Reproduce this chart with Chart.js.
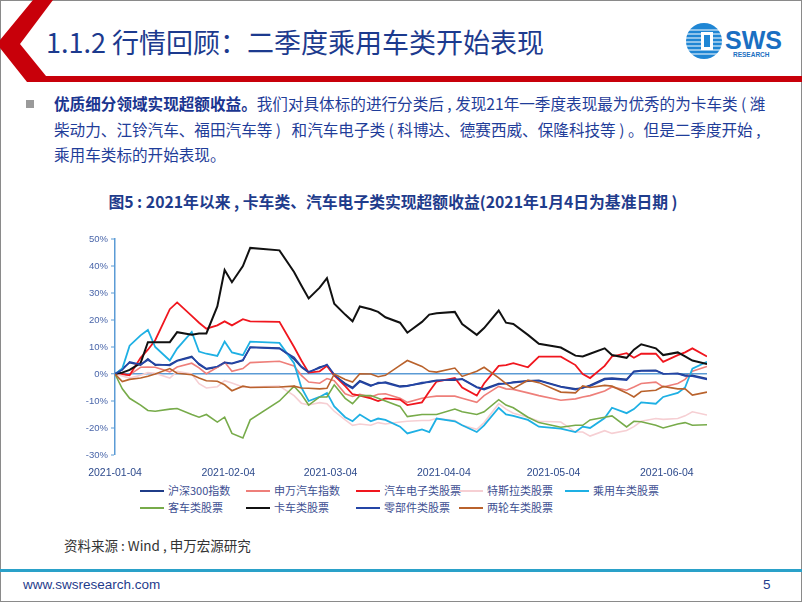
<!DOCTYPE html>
<html lang="zh">
<head>
<meta charset="UTF-8">
<title>行情回顾</title>
<script src="https://cdn.jsdelivr.net/npm/chart.js"></script>
<style>
    body {
        margin: 0;
        width: 802px;
        height: 602px;
        position: relative;
        overflow: hidden;
        background: #fff;
        font-family: "Noto Sans CJK SC", sans-serif;
    }
    .frame {
        position: absolute;
        left: 0; top: 0;
        width: 800px; height: 600px;
        border: 1px solid #8a8a8a;
    }
    .title {
        position: absolute;
        left: 46px; top: 24px;
        font-size: 27px;
        line-height: 36px;
        color: #1c3a8e;
        white-space: nowrap;
    }
    .bullet {
        position: absolute;
        left: 26px; top: 100px;
        width: 8px; height: 8px;
        background: #9a9a9a;
    }
    .para {
        position: absolute;
        left: 54px; top: 91px;
        font-size: 15.6px;
        line-height: 25.5px;
        color: #1f3d99;
        white-space: nowrap;
    }
    .para b { font-weight: bold; color: #1a3590; }
    .ctitle {
        position: absolute;
        left: 0; width: 786px; top: 190px;
        text-align: center;
        font-size: 15.8px;
        font-weight: bold;
        color: #1f3c8c;
        white-space: nowrap;
    }
    #chart {
        position: absolute;
        left: 60px; top: 230px;
    }
    .leg {
        position: absolute;
        font-size: 11px;
        line-height: 14px;
        color: #3e4f92;
        white-space: nowrap;
    }
    .leg i {
        display: inline-block;
        width: 24px; height: 2px;
        vertical-align: middle;
        margin-right: 4px;
        margin-top: -2px;
    }
    .source {
        position: absolute;
        left: 64px; top: 535px;
        font-size: 13.5px;
        color: #333;
    }
    .footline {
        position: absolute;
        left: 0; top: 569px;
        width: 802px; height: 3px;
        background: #2aa1c9;
    }
    .url, .page {
        position: absolute;
        top: 577px;
        font-family: "Liberation Sans", Arial, sans-serif;
        font-size: 13.5px;
        color: #1f3c8c;
    }
    .url { left: 23px; }
    .page { left: 763px; }
</style>
</head>
<body>
<div class="frame"></div>

<svg width="802" height="90" style="position:absolute;left:0;top:0">
    <polygon points="33,0 53,0 20,44 46,76 802,76 802,82 27,82 0,48 0,40" fill="#c8000a"/>
    <circle cx="704" cy="41" r="18" fill="#1f86d4"/>
    <g stroke="#ffffff" stroke-width="1.2">
        <line x1="686" y1="30" x2="722" y2="30"/>
        <line x1="686" y1="34" x2="722" y2="34"/>
        <line x1="686" y1="38" x2="722" y2="38"/>
        <line x1="686" y1="42" x2="722" y2="42"/>
        <line x1="686" y1="46" x2="722" y2="46"/>
        <line x1="686" y1="50" x2="722" y2="50"/>
        <line x1="686" y1="54" x2="722" y2="54"/>
    </g>
    <rect x="701" y="32" width="12" height="18" fill="#ffffff"/>
    <rect x="704" y="35" width="6" height="12" fill="#1f86d4"/>
    <text x="725" y="49" font-family="Liberation Sans" font-weight="bold" font-size="25" fill="#1a6fc2">SWS</text>
    <text x="733" y="57" font-family="Liberation Sans" font-weight="bold" font-size="6.5" fill="#1a6fc2">RESEARCH</text>
</svg>

<div class="title">1.1.2 行情回顾：二季度乘用车类开始表现</div>

<div class="bullet"></div>
<div class="para"><b>优质细分领域实现超额收益。</b>我们对具体标的进行分类后 , 发现21年一季度表现最为优秀的为卡车类 ( 潍<br>柴动力、江铃汽车、福田汽车等 )&nbsp;&nbsp; 和汽车电子类 ( 科博达、德赛西威、保隆科技等 ) 。但是二季度开始 ,<br>乘用车类标的开始表现。</div>

<div class="ctitle">图5 : 2021年以来 , 卡车类、汽车电子类实现超额收益(2021年1月4日为基准日期 )</div>

<canvas id="chart" width="670" height="250"></canvas>
<div id="legend"></div>

<div class="source">资料来源 : Wind , 申万宏源研究</div>
<div class="footline"></div>
<div class="url">www.swsresearch.com</div>
<div class="page">5</div>

<script>
// sample dates (trading days)
const dates = [
    '2021-01-04','2021-01-06','2021-01-08','2021-01-11','2021-01-13','2021-01-15','2021-01-19','2021-01-21','2021-01-25','2021-01-27','2021-01-29',
    '2021-02-01','2021-02-03','2021-02-05','2021-02-08','2021-02-10','2021-02-18','2021-02-22','2021-02-24','2021-02-26',
    '2021-03-01','2021-03-03','2021-03-05','2021-03-08','2021-03-10','2021-03-12','2021-03-15','2021-03-17','2021-03-19','2021-03-23','2021-03-25','2021-03-29','2021-03-31',
    '2021-04-02','2021-04-07','2021-04-09','2021-04-13','2021-04-15','2021-04-19','2021-04-21','2021-04-23','2021-04-27','2021-04-30',
    '2021-05-06','2021-05-10','2021-05-12','2021-05-14','2021-05-18','2021-05-20','2021-05-24','2021-05-26','2021-05-28',
    '2021-06-01','2021-06-03','2021-06-07','2021-06-09','2021-06-11','2021-06-15'
];
const tickDates = ['2021-01-04','2021-02-04','2021-03-04','2021-04-04','2021-05-04','2021-06-04'];
const lastDate = '2021-06-15';

// excess return, %
const hs300 = [0, 2, 4.2, 3.3, 5.6, 3.3, 3.5, 5, 6.5, 3.5, 1.8,
    2.5, 4.1, 3.8, 5, 10, 9.6, 5.5, 2.5, 0.5,
    2.6, 3.2, -0.5, -3.5, -5, -2.5, -4.2, -3.5, -3, -4.5, -4.3, -3.5, -2.8,
    -2.3, -2.3, -1.8, -4.8, -5.5, -3.5, -3.6, -3, -2.5, -2.3,
    -4.6, -5.5, -5.2, -4.2, -1.7, -1.5, -2, 1, 1.3,
    1.4, 0, 0.3, -0.5, -0.5, -1.7];
const swAuto = [0, -0.3, -0.3, 2.5, 2.6, 2.5, 0.8, 2.6, 4, 2.3, 0.1,
    2.5, 4.4, 1, 2, 4.2, 4.7, 3, -0.5, -3,
    -3.4, -1.7, -2.5, -7.3, -8.3, -7.5, -8.5, -7.5, -7.3, -9, -10.5, -9, -8.5,
    -8.2, -8.2, -9, -10.5, -8, -4.6, -5.5, -5.7, -7, -8,
    -9.7, -9.2, -8.5, -8, -6.3, -4.8, -6, -4.8, -3.5,
    -3, -4.8, -3.5, -2, 1, 2.8];
const autoElec = [0, 0, -0.5, 6, 9, 12.5, 24, 26.5, 21.5, 19, 16.8,
    18, 19.5, 18, 20.3, 19.5, 19.3, 10, 5, 0.5,
    1, 3, -0.5, -4.5, -7.5, -8, -9, -10, -9, -9.5, -11.5, -10.5, -6.5,
    -2.8, -1.5, -5, -8, -3.5, 3, 3.3, 4, 2.5, 6.4,
    6.4, 3.3, 0, -1.5, 3, 6.5, 7.7, 6, 7.5,
    7.5, 4.5, 7, 8, 9.5, 6.5];
const tesla = [0, -0.7, -1.5, -0.5, 0.5, 0.3, -1.5, 1, 0, -3.6, -5.2,
    -4.7, -2.5, -3.3, -4.8, -4.8, -4.5, -8, -10.8, -11.5,
    -10.6, -11, -13.8, -17, -19, -18.5, -19, -18, -18.5, -17.8, -17.5, -17.2, -17.2,
    -16.5, -17.2, -19, -20.5, -18, -11, -13, -14.5, -16, -17.5,
    -17.8, -21.5, -21.5, -23, -21, -22, -20.9, -19.5, -17.5,
    -16.5, -16.8, -16.5, -15.5, -14, -15.2];
const passenger = [0, 2, 10.5, 14.3, 16.3, 10, 5, 9.4, 15.6, 8.3, 7.5,
    6.7, 12, 8, 7, 12, 11.5, 4, -5, -10,
    -8.5, -7, -12, -16, -17.5, -15, -17.5, -16.5, -17, -19.5, -22, -20.5, -21.5,
    -16.5, -17.5, -19, -21.5, -19, -12.5, -15, -15.5, -17, -19.5,
    -20.2, -21.5, -19.5, -20, -16.3, -12.5, -14.5, -13, -10.5,
    -11, -8.5, -7, -5, 2, 4.5];
const bus = [0, -5.5, -9, -11.5, -13.5, -13.8, -13, -12.8, -15, -16, -15,
    -17.8, -16, -22, -23.7, -17, -10, -4.5, -7.5, -11.5,
    -8.5, -8.5, -4, -9, -11, -8, -8, -9, -10, -12, -15.8, -15, -15,
    -15, -13, -14, -15, -14, -9.5, -11.5, -12.5, -16, -18,
    -19.7, -19, -19, -17, -16, -15.5, -19.6, -17.5, -17.7,
    -19, -20, -18.5, -18, -19, -18.8];
const truck = [0, 0.5, 1.5, 4, 11.8, 11.8, 11.8, 15.5, 14.5, 15, 15,
    25, 38.5, 34, 40, 46.7, 45.8, 37.8, 32.8, 28,
    32, 35.5, 26, 22, 19.5, 25, 24, 23, 21, 19, 15.3, 19.3, 22,
    22.5, 23, 18.5, 14.5, 17, 23.5, 19, 18.5, 14.5, 11.2,
    9.8, 6.8, 6.5, 7.5, 9.5, 7, 6, 9, 11,
    9.5, 7, 8, 6.5, 5, 3.7];
const parts = [0, 1.5, 4.5, 3.5, 5.2, 3.6, 3.2, 4.8, 6.2, 3.8, 2,
    2.8, 4.3, 4, 5.2, 9.8, 9.4, 6.2, 2.8, 0.8,
    2.2, 3.5, -0.2, -3.8, -5.4, -2.8, -4.5, -3.2, -3.3, -4.8, -4.5, -3.2, -3,
    -2.5, -2, -2, -5, -5.8, -3.8, -3.4, -3.2, -2.7, -2.5,
    -4.8, -5.8, -5, -4.5, -2, -1.8, -2.3, 0.8, 1.1,
    1.2, 0.2, 0.1, -0.7, -0.8, -2];
const twoWheel = [0, -2.8, -2, -1.5, -0.8, 0, 2, 0.3, -0.3, -1.5, -2.5,
    -2.7, -4, -6.2, -4.5, -5, -4.8, -4.5, -5.2, -5.3,
    -5.5, -5.3, 0, -2, -3, 0.1, 0, -1, -0.5, 3.2, 5, 2.8, 1,
    0.7, 2.2, -0.9, 1, 2.5, -1.4, -3.6, -5.4, -2.3, -3.2,
    -6.7, -7, -4.4, -5, -4.2, -4.5, -7, -8.5, -6.5,
    -6, -4.6, -5.5, -5.5, -7.8, -6.7];

const seriesNames = ['沪深300指数', '申万汽车指数', '汽车电子类股票', '特斯拉类股票', '乘用车类股票',
    '客车类股票', '卡车类股票', '零部件类股票', '两轮车类股票'];
const seriesValues = [hs300, swAuto, autoElec, tesla, passenger, bus, truck, parts, twoWheel];
const colors = ['#1f3c88', '#ee7f7a', '#f0161e', '#f6cfd3', '#1eb0e4', '#77ab4a', '#111111', '#2445a6', '#b9622c'];
const widths = [1.6, 1.6, 1.8, 1.6, 1.8, 1.6, 2, 1.6, 1.6];

function dayOf(d) {
    return Math.round((Date.parse(d) - Date.parse(dates[0])) / 86400000);
}

const datasets = seriesNames.map((name, i) => ({
    label: name,
    data: dates.map((d, j) => ({ x: dayOf(d), y: seriesValues[i][j] })),
    borderColor: colors[i],
    borderWidth: widths[i],
    pointRadius: 0,
    tension: 0,
    fill: false,
    order: -i
}));

new Chart(document.getElementById('chart'), {
    type: 'line',
    data: { datasets: datasets },
    options: {
        responsive: false,
        animation: false,
        devicePixelRatio: 1,
        layout: { padding: { top: 9, right: 23, left: 0, bottom: 0 } },
        plugins: { legend: { display: false }, tooltip: { enabled: false } },
        scales: {
            x: {
                type: 'linear',
                min: 0,
                max: dayOf(lastDate),
                afterBuildTicks: s => { s.ticks = tickDates.map(d => ({ value: dayOf(d) })); },
                afterFit: s => { s.height = 25; },
                ticks: {
                    autoSkip: false,
                    maxRotation: 0,
                    padding: 4,
                    color: '#2d4a8c',
                    font: { family: 'Liberation Sans', size: 10.5 },
                    callback: v => tickDates.find(d => dayOf(d) === v)
                },
                grid: { display: false },
                border: { display: false }
            },
            y: {
                min: -30,
                max: 50,
                afterFit: s => { s.width = 55; },
                ticks: {
                    stepSize: 10,
                    padding: 3,
                    color: '#4a66aa',
                    font: { family: 'Liberation Sans', size: 9.5 },
                    callback: v => v + '%'
                },
                grid: {
                    color: c => c.tick && c.tick.value === 0 ? '#5b9bd5' : 'rgba(0,0,0,0)',
                    lineWidth: c => c.tick && c.tick.value === 0 ? 1.5 : 0,
                    tickColor: '#5b9bd5',
                    tickWidth: 1,
                    tickLength: 4
                },
                border: { display: true, color: '#5b9bd5', width: 1.5 }
            }
        }
    }
});

// legend, 5 columns x 2 rows
const legendCols = [140, 246, 356, 459, 565];
const legendRows = [483, 500];
const legend = document.getElementById('legend');
seriesNames.forEach((name, i) => {
    const el = document.createElement('div');
    el.className = 'leg';
    el.style.left = legendCols[i % 5] + 'px';
    el.style.top = legendRows[Math.floor(i / 5)] + 'px';
    el.innerHTML = '<i style="background:' + colors[i] + '"></i>' + name;
    legend.appendChild(el);
});
</script>
</body>
</html>
